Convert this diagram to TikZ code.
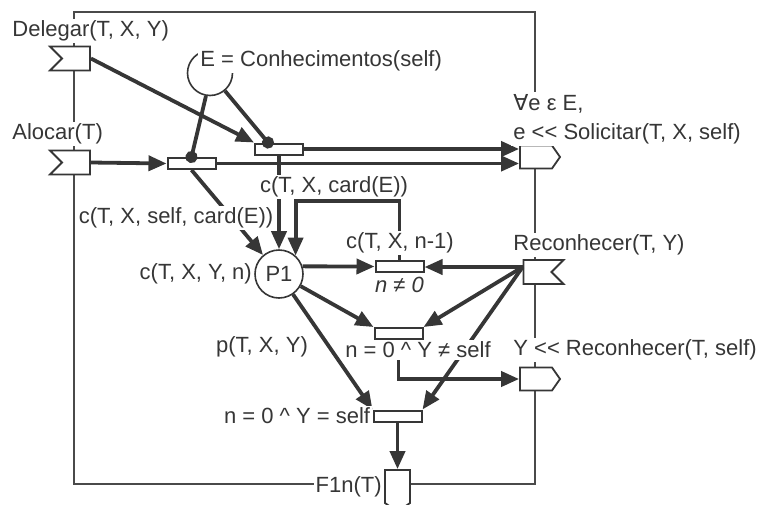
\documentclass[tikz,border=0pt]{standalone}
\usepackage{fontspec}
\setmainfont{Liberation Sans}
\newfontfamily\symbfont{DejaVu Sans}
\usepackage{tikz}
\usetikzlibrary{arrows.meta,positioning,shapes.symbols,backgrounds}
\definecolor{netink}{HTML}{363636}
\definecolor{frameink}{HTML}{4A4A4A}
\tikzset{
  placenode/.style={circle, draw=netink, fill=white, line width=0.8pt, inner sep=0pt, font=\fontsize{11}{14.5}\selectfont, text=netink},
  transnode/.style={rectangle, draw=netink, fill=white, line width=1pt, inner sep=0pt, minimum width=24pt, minimum height=5.5pt},
  inport/.style={signal, signal to=nowhere, signal from=west, signal pointer angle=90, draw=netink, fill=white, line width=0.9pt, inner sep=0pt, minimum width=20pt, minimum height=12pt},
  outport/.style={signal, signal to=east, signal pointer angle=110, draw=netink, fill=white, line width=0.9pt, inner sep=0pt, minimum width=20pt, minimum height=11.5pt},
  downport/.style={signal, signal to=south, signal pointer angle=110, draw=netink, fill=white, line width=0.9pt, inner sep=0pt, minimum width=12.5pt, minimum height=16.5pt},
  lbl/.style={fill=white, inner sep=1pt, text=netink, font=\fontsize{11}{14.5}\selectfont},
  edge/.style={-{Triangle[length=9pt,width=7.5pt]}, line width=1.9pt, draw=netink},
  readedge/.style={-{Circle[length=6pt]}, line width=1.9pt, draw=netink, shorten >=-3pt},
  frameedge/.style={line width=0.7pt, draw=frameink}
}

\begin{document}
\begin{tikzpicture}[x=0.5pt, y=-0.5pt]
  \useasboundingbox (0,0) rectangle (764,504);
  \coordinate (fnw) at (74,12);
  \coordinate (fse) at (535,484);
  \node[inport] (delegar) at (76,58.5) {};
  \node[inport] (alocar) at (76,162.5) {};
  \node[placenode, minimum size=22.5pt] (E) at (210,73) {};
  \node[transnode] (talocar) at (191.5,163.5) {};
  \node[transnode] (tdelegar) at (279,149) {};
  \node[outport] (solicitar) at (536,157) {};
  \node[placenode, minimum size=24pt] (P1) at (279,274) {P1};
  \node[transnode] (tdec) at (399.5,266.5) {};
  \node[transnode] (tfwd) at (398.5,333.5) {};
  \node[transnode] (tend) at (397.5,416) {};
  \node[inport, signal from=east] (reconhecer) at (537.5,272) {};
  \node[outport] (yrec) at (536,379) {};
  \node[downport] (f1n) at (397.5,486.5) {};
  \coordinate (recin) at ([yshift=2.5pt]reconhecer.west);

  \begin{scope}[on background layer]
    \draw[frameedge] (fnw) rectangle (fse);
  \end{scope}

  \draw[edge] (alocar.east) -- (talocar.west);
  \draw[edge] (delegar.east) -- (tdelegar.north west);
  \draw[edge] (talocar.east) -- (talocar.east -| solicitar.west);
  \draw[edge] (tdelegar.east) -- (tdelegar.east -| solicitar.west);
  \draw[readedge] (E.-100) -- (talocar.north);
  \draw[readedge] (E.-50) -- ([xshift=-5.5pt]tdelegar.north);
  \draw[edge] (talocar.south) -- (P1);
  \draw[edge] (tdelegar.south) -- (P1.north);
  \draw[edge] (tdec.north) -- ++(0,-59) -| (P1.48);
  \draw[edge] (P1.18) -- (tdec.west);
  \draw[edge] (recin) -- (recin -| tdec.east);
  \draw[edge] (P1) -- (tfwd.north west);
  \draw[edge] (recin) -- (tfwd.north east);
  \draw[edge] (tfwd.south) |- (yrec.west);
  \draw[edge] (recin) -- (tend.north east);
  \draw[edge] (P1) -- (tend.north west);
  \draw[edge] (tend.south) -- (f1n.north);

  \node[lbl, anchor=west] (delegarlbl) at (10,31) {Delegar(T, X, Y)};
  \node[lbl, anchor=west] (alocarlbl) at (10,134) {Alocar(T)};
  \node[lbl, anchor=base west] (elbl) at (198,66) {E = Conhecimentos(self)};
  \node[lbl, anchor=west, align=left] (solicitarlbl) at (511,119) {{\symbfont ∀}e ε E,\\e <{}< Solicitar(T, X, self)};
  \node[lbl] (c1lbl) at (176,218) {c(T, X, self, card(E))};
  \node[lbl] (c2lbl) at (334,187) {c(T, X, card(E))};
  \node[lbl] (c3lbl) at (400,243) {c(T, X, n-1)};
  \node[lbl, left=0pt of P1] (cplbl) {c(T, X, Y, n)};
  \node[lbl, below=1pt of tdec, font=\fontsize{11}{14.5}\selectfont\itshape] (neqlbl) {n ≠ 0};
  \node[lbl, anchor=west] (reclbl) at (511,245) {Reconhecer(T, Y)};
  \node[lbl] (g4lbl) at (418,350) {n = 0 \textasciicircum{} Y ≠ self};
  \node[lbl, anchor=west] (yreclbl) at (511,350) {Y <{}< Reconhecer(T, self)};
  \node[lbl] (plbl) at (262,347) {p(T, X, Y)};
  \node[lbl, left=0pt of tend] (g5lbl) {n = 0 \textasciicircum{} Y = self};
  \node[lbl, left=0pt of f1n] (f1nlbl) {F1n(T)};
\end{tikzpicture}
\end{document}
